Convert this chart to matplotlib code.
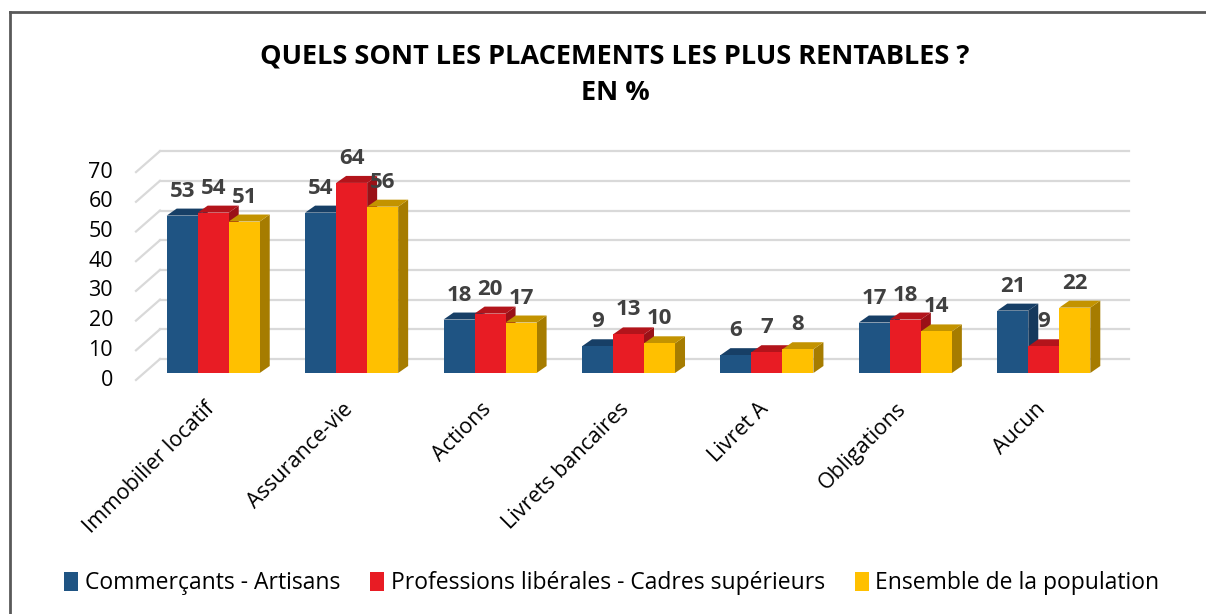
"""Placements les plus rentables - barres pseudo-3D"""

import matplotlib
matplotlib.use('Agg')
import matplotlib.pyplot as plt
from matplotlib.patches import Rectangle, Polygon, Patch
from matplotlib.transforms import Affine2D
from matplotlib.lines import Line2D
import numpy as np

plt.rcParams['font.family'] = ['Open Sans', 'DejaVu Sans']

categories = ['Immobilier locatif', 'Assurance-vie', 'Actions', 'Livrets bancaires',
              'Livret A', 'Obligations', 'Aucun']
commercants = [53, 54, 18, 9, 6, 17, 21]
professions = [54, 64, 20, 13, 7, 18, 9]
ensemble = [51, 56, 17, 10, 8, 14, 22]
series_names = ['Commerçants - Artisans', 'Professions libérales - Cadres supérieurs',
                'Ensemble de la population']
y_ticks = [0, 10, 20, 30, 40, 50, 60, 70]

# couleurs : face, dessus, côté
colors = [('#1F5483', '#173F66', '#16395C'),
          ('#E81C24', '#B3141B', '#9A1117'),
          ('#FFC000', '#C39300', '#A67C00')]

W, H, DPI = 1206, 614, 100
fig = plt.figure(figsize=(W / DPI, H / DPI), dpi=DPI)

# plan des barres (pixels)
left_px, right_px = 144, 1113
zero_px, px_per_unit = 373, 2.97
ymax = 70
ax = fig.add_axes([left_px / W, (H - zero_px) / H, (right_px - left_px) / W,
                   ymax * px_per_unit / H])
ax.set_xlim(-0.5, len(categories) - 0.5)
ax.set_ylim(0, ymax)
ax.axis('off')

px_per_cat = (right_px - left_px) / len(categories)
back = Affine2D().translate(16, 14)
front = Affine2D().translate(-8, -7)

# murs : grille arrière + diagonales à gauche
for v in y_ticks:
    ax.plot([-0.5, len(categories) - 0.5], [v, v], color='#D9D9D9', lw=1.6,
            transform=ax.transData + back, clip_on=False, zorder=0)
    p0 = (ax.transData + front).transform((-0.5, v))
    p1 = (ax.transData + back).transform((-0.5, v))
    fig.add_artist(Line2D([p0[0] / W, p1[0] / W], [p0[1] / H, p1[1] / H],
                          color='#D9D9D9', lw=1.6, transform=fig.transFigure, zorder=0))
    ax.annotate(str(v), (-0.5, v), xytext=(-31, -7), textcoords='offset pixels',
                ha='right', va='center', fontsize=15.5, color='#000000',
                annotation_clip=False)

bw = 0.224
ddx = 10 / px_per_cat
ddy = 7 / px_per_unit
x = np.arange(len(categories))
z = 2
for i in range(len(categories)):
    for k, vals in enumerate([commercants, professions, ensemble]):
        v = vals[i]
        xc = x[i] + (k - 1) * bw
        xl, xr = xc - bw / 2, xc + bw / 2
        fc, tc, sc = colors[k]
        ax.add_patch(Polygon([(xr, 0), (xr + ddx, ddy), (xr + ddx, v + ddy), (xr, v)],
                             closed=True, fc=sc, ec='none', zorder=z, clip_on=False))
        ax.add_patch(Polygon([(xl, v), (xr, v), (xr + ddx, v + ddy), (xl + ddx, v + ddy)],
                             closed=True, fc=tc, ec='none', zorder=z, clip_on=False))
        ax.add_patch(Rectangle((xl, 0), bw, v, fc=fc, ec='none', zorder=z + 0.5,
                               clip_on=False))
        z += 1
        ax.annotate(str(v), (xc, v), xytext=(0, 19), textcoords='offset pixels',
                    ha='center', va='baseline', fontsize=16, fontweight='bold',
                    color='#404040', annotation_clip=False, zorder=100)

# étiquettes des catégories
for i, cat in enumerate(categories):
    ax.annotate(cat, (x[i], 0), xytext=(-2, -33), textcoords='offset pixels',
                ha='right', va='center', rotation=45, rotation_mode='anchor',
                fontsize=15.5, color='#000000', annotation_clip=False)

fig.text(615 / W, (H - 57) / H, 'QUELS SONT LES PLACEMENTS LES PLUS RENTABLES ?',
         ha='center', va='center', fontsize=19.5, fontweight='bold')
fig.text(615 / W, (H - 93) / H, 'EN %', ha='center', va='center', fontsize=19.5,
         fontweight='bold')

handles = [Patch(fc=c[0], ec='none') for c in colors]
fig.legend(handles, series_names, loc='center', bbox_to_anchor=(612 / W, (H - 583) / H),
           ncol=3, frameon=False, fontsize=16.5, handlelength=0.6, handleheight=0.9,
           handletextpad=0.3, columnspacing=1.3)

# cadre
fig.add_artist(Line2D([10 / W, 1], [1 - 12 / H, 1 - 12 / H], color='#595959', lw=2,
                      transform=fig.transFigure))
fig.add_artist(Line2D([10 / W, 10 / W], [0, 1 - 12 / H], color='#595959', lw=2,
                      transform=fig.transFigure))

fig.savefig('out.png', dpi=DPI)
plt.close(fig)
